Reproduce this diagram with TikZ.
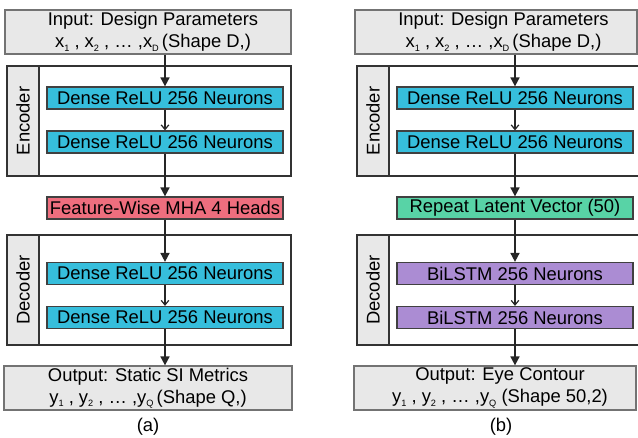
\documentclass[tikz,border=0pt]{standalone}
\usepackage{fontspec}
\setmainfont{Liberation Sans}
\usetikzlibrary{arrows.meta}

\definecolor{gris}{HTML}{E8E8E8}
\definecolor{azul}{HTML}{36BEDC}
\definecolor{rosa}{HTML}{EE6E7E}
\definecolor{verde}{HTML}{58D3A6}
\definecolor{lila}{HTML}{AB8CD3}

% subindices pequenos
\newcommand{\ind}[1]{\raisebox{-0.35ex}{\fontsize{4.6}{5}\selectfont #1}}

\begin{document}
\begin{tikzpicture}[x=0.5pt, y=-0.5pt, font=\fontsize{9.2}{11}\selectfont,
		caja/.style={draw=black!55, fill=gris, line width=0.6pt, minimum height=22pt, inner sep=0pt, align=center},
		capa/.style={draw=black!75, line width=0.6pt, minimum width=118pt, minimum height=11pt, inner sep=0pt},
		marco/.style={draw=black!80, line width=0.6pt},
		franja/.style={marco, fill=gris},
		flecha/.style={-{Triangle[length=4.5pt,width=4.5pt]}, line width=0.85pt, black!85},
		flechita/.style={-{Straight Barb[length=2.3pt,width=3.8pt]}, line width=0.6pt, black!85}
		]
		\useasboundingbox (0,0) rectangle (638,438);
		
		% ---- (a) ----
		% ---- MARCOS ----
		\draw[franja] (7,66) rectangle (39,176);
		\draw[marco] (7,66) rectangle (291,176);
		\draw[franja] (7,235) rectangle (39,345);
		\draw[marco] (7,235) rectangle (291,345);
		\node[rotate=90] (a-enc) at (23,121) {Encoder};
		\node[rotate=90] (a-dec) at (23,290) {Decoder};
		
		% ---- NODOS ----
		\node[caja, minimum width=143pt] (a-in) at (148,32) {\hspace*{5pt}Input: Design Parameters\\ \hspace*{5pt}x\ind{1} , x\ind{2} , \dots\ ,x\ind{D}\,(Shape D,)};
		\node[capa, fill=azul] (a1) at (165,98) {Dense ReLU 256 Neurons};
		\node[capa, fill=azul] (a2) at (165,142) {Dense ReLU 256 Neurons};
		\node[capa, fill=rosa] (a-mha) at (165,208) {Feature-Wise MHA 4 Heads};
		\node[capa, fill=azul] (a3) at (165,273.5) {Dense ReLU 256 Neurons};
		\node[capa, fill=azul] (a4) at (165,317.5) {Dense ReLU 256 Neurons};
		\node[caja, minimum width=144pt] (a-out) at (148,388) {Output: Static SI Metrics\\ y\ind{1} , y\ind{2} , \dots\ ,y\ind{Q}\,(Shape Q,)};
		\node (a-lab) at (148,427) {(a)};
		
		% ---- ARISTAS ----
		\draw[flecha] (a-in.south -| a1) -- (a1);
		\draw[flechita] (a1) -- (a2);
		\draw[flecha] (a2) -- (a-mha);
		\draw[flecha] (a-mha) -- (a3);
		\draw[flechita] (a3) -- (a4);
		\draw[flecha] (a4) -- (a-out.north -| a4);
		
		% ---- (b) ----
		% ---- MARCOS ----
		\draw[franja] (357,66) rectangle (389,176);
		\draw[marco] (357,66) rectangle (642,176);
		\draw[franja] (357,235) rectangle (389,345);
		\draw[marco] (357,235) rectangle (642,345);
		\node[rotate=90] (b-enc) at (373,121) {Encoder};
		\node[rotate=90] (b-dec) at (373,290) {Decoder};
		
		% ---- NODOS ----
		\node[caja, minimum width=141pt] (b-in) at (496,32) {\hspace*{7.5pt}Input: Design Parameters\\ \hspace*{7.5pt}x\ind{1} , x\ind{2} , \dots\ ,x\ind{D}\,(Shape D,)};
		\node[capa, fill=azul] (b1) at (515,98) {Dense ReLU 256 Neurons};
		\node[capa, fill=azul] (b2) at (515,142) {Dense ReLU 256 Neurons};
		\node[capa, fill=verde] (b-rep) at (515,208) {Repeat Latent Vector (50)};
		\node[capa, fill=lila] (b3) at (515,273.5) {BiLSTM 256 Neurons};
		\node[capa, fill=lila] (b4) at (515,317.5) {BiLSTM 256 Neurons};
		\node[caja, minimum width=141pt] (b-out) at (495,388) {\hspace*{5pt}Output: Eye Contour\\ \hspace*{5pt}y\ind{1} , y\ind{2} , \dots\ ,y\ind{Q} (Shape 50,2)};
		\node (b-lab) at (501,427) {(b)};
		
		% ---- ARISTAS ----
		\draw[flecha] (b-in.south -| b1) -- (b1);
		\draw[flechita] (b1) -- (b2);
		\draw[flecha] (b2) -- (b-rep);
		\draw[flecha] (b-rep) -- (b3);
		\draw[flechita] (b3) -- (b4);
		\draw[flecha] (b4) -- (b-out.north -| b4);
		
	\end{tikzpicture}
\end{document}
